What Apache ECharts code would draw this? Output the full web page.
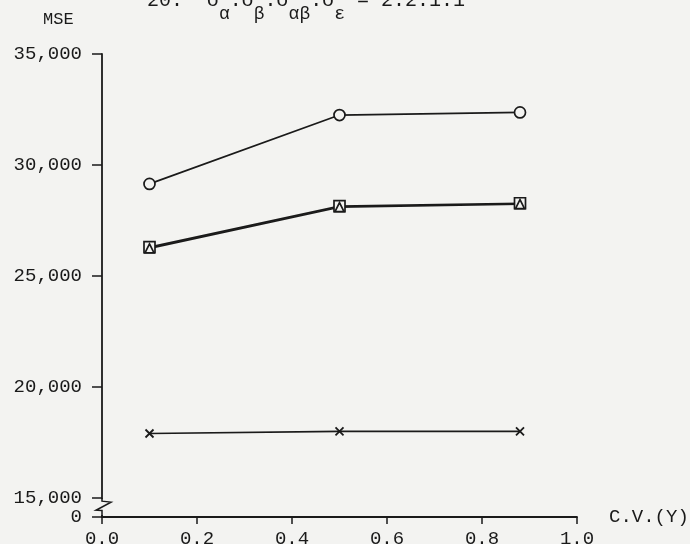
<!DOCTYPE html>
<html><head><meta charset="utf-8">
<script src="https://cdn.jsdelivr.net/npm/echarts@6/dist/echarts.min.js"></script>
<style>html,body{margin:0;padding:0;background:#f3f3f1;}#c{width:690px;height:544px;}</style>
</head><body><div id="c"></div>
<script>
const cvValues = [0.1, 0.5, 0.88];
const circleSeries = [29150, 32250, 32370];
const squareSeries = [26300, 28150, 28280];
const triangleSeries = [26250, 28100, 28240];
const crossSeries = [17910, 18010, 18010];
const yTickValues = [14150, 15000, 20000, 25000, 30000, 35000];
const xTickLabels = ['0.0', '0.2', '0.4', '0.6', '0.8', '1.0'];

const FONT = '"Liberation Mono", "DejaVu Sans Mono", monospace';
const INK = '#1a1a1a';
const BG = '#f3f3f1';
const pairs = arr => arr.map((v, i) => [cvValues[i], v]);
const chart = echarts.init(document.getElementById('c'), null, {renderer: 'canvas'});

function fmtY(v) {
  if (v < 15000) return '0';
  return v.toLocaleString('en-US');
}
const base = {
  type: 'line', symbolSize: 11, lineStyle: {color: INK, width: 1.7},
  itemStyle: {color: BG, borderColor: INK, borderWidth: 1.7}, z: 3
};
chart.setOption({
  backgroundColor: BG,
  animation: false,
  title: {
    text: '{m|20.  σ}{s|α}{m|:σ}{s|β}{m|:σ}{s|αβ}{m|:σ}{s|ε}{m| = 2:2:1:1}',
    left: 142, top: -14,
    textStyle: {fontFamily: FONT, fontSize: 19, color: INK, fontWeight: 'normal',
      rich: {
        m: {fontFamily: FONT, fontSize: 20, color: INK, lineHeight: 20, verticalAlign: 'top'},
        s: {fontFamily: FONT, fontSize: 18, color: INK, lineHeight: 18, verticalAlign: 'top', padding: [14, 0, 0, 0]}
      }}
  },
  grid: {left: 102, right: 113, top: 54, bottom: 27, outerBoundsMode: 'none', containLabel: false},
  xAxis: {
    type: 'value', min: 0, max: 1, interval: 0.2,
    name: 'C.V.(Y)', nameLocation: 'end', nameGap: 32,
    nameTextStyle: {fontFamily: FONT, fontSize: 19, color: INK, verticalAlign: 'middle', padding: [0, 0, 16, 0]},
    axisLine: {lineStyle: {color: INK, width: 1.8}},
    axisTick: {length: 7, lineStyle: {color: INK, width: 1.5}},
    axisLabel: {fontFamily: FONT, fontSize: 19, color: INK, margin: 12, hideOverlap: false,
      formatter: (v) => xTickLabels[Math.round(v / 0.2)]},
    splitLine: {show: false}
  },
  yAxis: {
    type: 'value', min: 14150, max: 35000,
    axisLine: {show: true, lineStyle: {color: INK, width: 1.8}},
    axisTick: {show: true, length: 10, customValues: yTickValues, lineStyle: {color: INK, width: 1.5}},
    axisLabel: {fontFamily: FONT, fontSize: 19, color: INK, margin: 20, hideOverlap: false,
      showMinLabel: true, showMaxLabel: true,
      customValues: yTickValues, formatter: fmtY},
    splitLine: {show: false}
  },
  series: [
    Object.assign({}, base, {name: 'a', data: pairs(circleSeries), symbol: 'circle'}),
    Object.assign({}, base, {name: 'b', data: pairs(squareSeries), symbol: 'rect', symbolSize: 11}),
    Object.assign({}, base, {name: 'c', data: pairs(triangleSeries), symbol: 'triangle', symbolSize: 9}),
    Object.assign({}, base, {name: 'd', data: pairs(crossSeries), symbol: 'path://M0,0L10,10M10,0L0,10', symbolSize: 8,
      itemStyle: {color: 'none', borderColor: INK, borderWidth: 1.8}})
  ]
});

// axis break mark and MSE label
const p15 = chart.convertToPixel({gridIndex: 0}, [0, 15000]);
const p0 = chart.convertToPixel({gridIndex: 0}, [0, 14150]);
const x0 = p15[0], yTop = p15[1] + 1, yBot = p0[1] - 2;
const h = yBot - yTop;
chart.setOption({
  graphic: [
    {type: 'rect', shape: {x: x0 - 3, y: yTop, width: 6, height: h}, style: {fill: BG}, z: 10},
    {type: 'polyline', shape: {points: [[x0, yTop - 1], [x0, yTop + 2], [x0 + 9, yTop + 3], [x0 - 6, yTop + h * 0.7], [x0, yTop + h * 0.72], [x0, yBot + 2]]},
      style: {stroke: INK, lineWidth: 1.5, fill: null}, z: 11},
    {type: 'text', left: 43, top: 11, style: {text: 'MSE', font: '17px ' + FONT, fill: INK}, z: 11}
  ]
});
</script></body></html>
